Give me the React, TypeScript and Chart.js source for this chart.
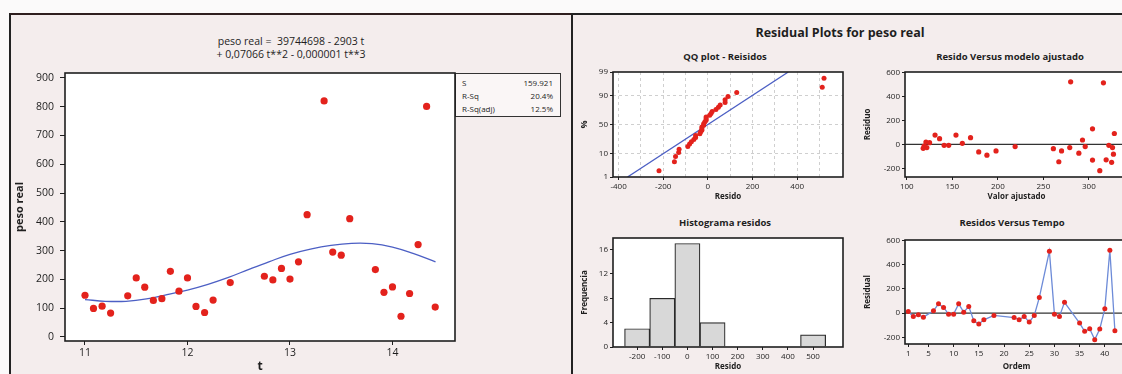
import React, { useEffect, useRef } from "react";
import { Chart, registerables } from "chart.js";

Chart.register(...registerables);

// ---------------- data ----------------
const order = [1, 2, 3, 4, 6, 7, 8, 9, 10, 11, 12, 13, 14, 15, 16, 18, 22, 23, 24, 25, 26, 27, 29, 30, 31, 32, 35, 36, 37, 38, 39, 40, 41, 42];
const tValues = [11.0, 11.083, 11.167, 11.25, 11.417, 11.5, 11.583, 11.667, 11.75, 11.833, 11.917, 12.0, 12.083, 12.167, 12.25, 12.417, 12.75, 12.833, 12.917, 13.0, 13.083, 13.167, 13.333, 13.417, 13.5, 13.583, 13.833, 13.917, 14.0, 14.083, 14.167, 14.25, 14.333, 14.417];
const pesoReal = [145, 99, 107, 83, 143, 205, 173, 127, 133, 228, 159, 205, 106, 85, 128, 189, 211, 198, 238, 201, 261, 425, 820, 295, 284, 411, 234, 155, 174, 72, 151, 321, 801, 104];
const curveT = [11.0, 11.2, 11.4, 11.6, 11.8, 12.0, 12.2, 12.4, 12.6, 12.8, 13.0, 13.2, 13.4, 13.6, 13.8, 14.0, 14.2, 14.42];
const curveY = [130, 124, 124, 132, 147, 163, 183, 207, 235, 262, 287, 305, 318, 325, 324, 312, 290, 261];
const fittedValues = [125, 122, 119, 118, 121, 131, 136, 141, 146, 154, 161, 170, 179, 188, 198, 219, 261, 270, 279, 289, 296, 304, 316, 322, 326, 328, 327, 325, 319, 312, 304, 293, 280, 267];
const residuals = [14, -27, -14, -33, 19, 77, 47, -8, -8, 77, 8, 55, -63, -90, -55, -19, -36, -55, -27, -74, -19, 129, 512, -8, -27, 90, -82, -150, -129, -219, -131, 36, 520, -145];
const histCenters = [-200, -100, 0, 100, 200, 300, 400, 500];
const histCounts = [3, 8, 17, 4, 0, 0, 0, 2];
const qqLineResid = [-360, 360];
const qqLinePct = [1, 99];
const qqTickPct = [1, 10, 50, 90, 99];
const qqGridPct = [10, 50, 90];
const mainYTicks = [0, 100, 200, 300, 400, 500, 600, 700, 800, 900];
const mainXTicks = [11, 12, 13, 14];
const qqXTicks = [-400, -300, -200, -100, 0, 100, 200, 300, 400, 500];
const fitXTicks = [100, 150, 200, 250, 300];
const residYTicks = [-200, 0, 200, 400, 600];
const histXTicks = [-200, -100, 0, 100, 200, 300, 400, 500];
const histYTicks = [0, 4, 8, 12, 16];
const orderXTicks = [1, 5, 10, 15, 20, 25, 30, 35, 40];
const statsLabels = ["S", "R-Sq", "R-Sq(adj)"];
const statsValues = ["159.921", "20.4%", "12.5%"];

// ---------------- style ----------------
const FONT = "'Open Sans', 'DejaVu Sans', sans-serif";
const INK = "#1e1e1e";
const RED = "#e3221c";
const BLUE = "#4c5fc4";
const LINE_BLUE = "#6d8bd8";
const PANEL_BG = "#f4eded";

function normInv(p: number): number {
  const a = [-3.969683028665376e1, 2.209460984245205e2, -2.759285104469687e2, 1.38357751867269e2, -3.066479806614716e1, 2.506628277459239];
  const b = [-5.447609879822406e1, 1.615858368580409e2, -1.556989798598866e2, 6.680131188771972e1, -1.328068155288572e1];
  const c = [-7.784894002430293e-3, -3.223964580411365e-1, -2.400758277161838, -2.549732539343734, 4.374664141464968, 2.938163982698783];
  const d = [7.784695709041462e-3, 3.224671290700398e-1, 2.445134137142996, 3.754408661907416];
  const plow = 0.02425;
  const phigh = 1 - plow;
  let q: number, r: number;
  if (p < plow) {
    q = Math.sqrt(-2 * Math.log(p));
    return (((((c[0] * q + c[1]) * q + c[2]) * q + c[3]) * q + c[4]) * q + c[5]) / ((((d[0] * q + d[1]) * q + d[2]) * q + d[3]) * q + 1);
  }
  if (p <= phigh) {
    q = p - 0.5;
    r = q * q;
    return ((((((a[0] * r + a[1]) * r + a[2]) * r + a[3]) * r + a[4]) * r + a[5]) * q) / (((((b[0] * r + b[1]) * r + b[2]) * r + b[3]) * r + b[4]) * r + 1);
  }
  q = Math.sqrt(-2 * Math.log(1 - p));
  return -(((((c[0] * q + c[1]) * q + c[2]) * q + c[3]) * q + c[4]) * q + c[5]) / ((((d[0] * q + d[1]) * q + d[2]) * q + d[3]) * q + 1);
}

const framePlugin = {
  id: "plotFrame",
  beforeDraw(chart: any) {
    const { ctx, chartArea: a } = chart;
    ctx.save();
    ctx.fillStyle = "#ffffff";
    ctx.fillRect(a.left, a.top, a.right - a.left, a.bottom - a.top);
    ctx.restore();
  },
  afterDraw(chart: any) {
    const { ctx, chartArea: a } = chart;
    ctx.save();
    ctx.strokeStyle = INK;
    ctx.lineWidth = 1.6;
    ctx.strokeRect(a.left, a.top, a.right - a.left, a.bottom - a.top);
    ctx.restore();
  },
};

const zeroLinePlugin = {
  id: "zeroLine",
  beforeDatasetsDraw(chart: any) {
    const { ctx, chartArea: a } = chart;
    const y = chart.scales.y.getPixelForValue(0);
    ctx.save();
    ctx.strokeStyle = "#333333";
    ctx.lineWidth = 1.2;
    ctx.beginPath();
    ctx.moveTo(a.left, y);
    ctx.lineTo(a.right, y);
    ctx.stroke();
    ctx.restore();
  },
};

function scale(o: any) {
  return {
    type: "linear",
    position: o.pos,
    min: o.min,
    max: o.max,
    offset: false,
    afterBuildTicks: (s: any) => {
      s.ticks = o.ticks.map((v: number) => ({ value: v }));
    },
    afterFit: (s: any) => {
      if (o.pos === "left") s.width = o.size;
      else s.height = o.size;
    },
    ticks: {
      autoSkip: false,
      maxRotation: 0,
      minRotation: 0,
      font: { family: FONT, size: o.fontSize },
      color: INK,
      padding: o.tickPad,
      callback: o.label || ((v: any) => String(v)),
    },
    grid: {
      offset: false,
      drawOnChartArea: !!o.gridColor,
      color: o.gridColor ? o.gridColorFn || o.gridColor : INK,
      tickColor: o.tickColorFn || INK,
      tickLength: o.tickLen,
      tickBorderDash: [],
      lineWidth: 1,
    },
    border: { display: false, dash: o.gridColor ? [3, 3] : [] },
    title: {
      display: true,
      text: o.title,
      color: INK,
      font: { family: FONT, size: o.titleSize, weight: "bold" },
      padding: o.pos === "left" ? { top: o.titlePad, bottom: 0 } : { top: 0, bottom: o.titlePad },
    },
  };
}

const baseOptions = (pad: any) => ({
  responsive: false,
  animation: false as const,
  layout: { padding: pad },
  plugins: { legend: { display: false }, tooltip: { enabled: false } },
});

function mainConfig(): any {
  return {
    type: "scatter",
    data: {
      datasets: [
        {
          data: tValues.map((t, i) => ({ x: t, y: pesoReal[i] })),
          pointRadius: 3.6,
          pointBackgroundColor: RED,
          pointBorderWidth: 0,
          showLine: false,
        },
        {
          data: curveT.map((t, i) => ({ x: t, y: curveY[i] })),
          showLine: true,
          pointRadius: 0,
          borderColor: BLUE,
          borderWidth: 1.3,
          tension: 0.4,
        },
      ],
    },
    options: {
      ...baseOptions({ left: 0, right: 7, top: 15, bottom: 0 }),
      scales: {
        x: scale({ pos: "bottom", min: 10.805, max: 14.61, ticks: mainXTicks, size: 33, fontSize: 10.5, tickPad: 2, tickLen: 4, title: "t", titleSize: 12, titlePad: 0 }),
        y: scale({ pos: "left", min: -14, max: 917, ticks: mainYTicks, size: 55, fontSize: 10.5, tickPad: 6, tickLen: 5, title: "peso real", titleSize: 11, titlePad: 3 }),
      },
    },
    plugins: [framePlugin],
  };
}

function qqConfig(): any {
  const sorted = [...residuals].sort((a, b) => a - b);
  const n = sorted.length;
  const pts = sorted.map((r, i) => ({ x: r, y: normInv((i + 1 - 0.3) / (n + 0.4)) }));
  const zTicks = qqTickPct.map((p) => normInv(p / 100));
  const zGrid = qqGridPct.map((p) => normInv(p / 100));
  return {
    type: "scatter",
    data: {
      datasets: [
        { data: pts, pointRadius: 2.5, pointBackgroundColor: RED, pointBorderWidth: 0, showLine: false },
        {
          data: qqLineResid.map((r, i) => ({ x: r, y: normInv(qqLinePct[i] / 100) })),
          showLine: true,
          pointRadius: 0,
          borderColor: BLUE,
          borderWidth: 1.3,
        },
      ],
    },
    options: {
      ...baseOptions({ left: 0, right: 7, top: 9, bottom: 0 }),
      scales: {
        x: scale({
          pos: "bottom", min: -425, max: 605, ticks: qqXTicks, size: 28, fontSize: 8, tickPad: 2, tickLen: 3,
          title: "Resido", titleSize: 8, titlePad: 3,
          label: (v: any) => (v % 200 === 0 ? String(v) : ""),
          gridColor: "#cfcfcf",
          tickColorFn: (ctx: any) => (ctx.tick && ctx.tick.value % 200 === 0 ? INK : "rgba(0,0,0,0)"),
        }),
        y: scale({
          pos: "left", min: zTicks[0], max: zTicks[zTicks.length - 1], ticks: zTicks, size: 38, fontSize: 8, tickPad: 2, tickLen: 3,
          title: "%", titleSize: 9, titlePad: 4.5,
          label: (_v: any, i: number) => String(qqTickPct[i]),
          gridColor: "#cfcfcf",
          gridColorFn: (ctx: any) =>
            ctx.tick && zGrid.some((z) => Math.abs(z - ctx.tick.value) < 1e-9) ? "#cfcfcf" : "rgba(0,0,0,0)",
        }),
      },
    },
    plugins: [framePlugin],
  };
}

function fitConfig(): any {
  return {
    type: "scatter",
    data: {
      datasets: [
        {
          data: fittedValues.map((f, i) => ({ x: f, y: residuals[i] })),
          pointRadius: 2.6,
          pointBackgroundColor: RED,
          pointBorderWidth: 0,
          showLine: false,
        },
      ],
    },
    options: {
      ...baseOptions({ left: 0, right: 12, top: 9, bottom: 0 }),
      scales: {
        x: scale({ pos: "bottom", min: 98, max: 343, ticks: fitXTicks, size: 28, fontSize: 8, tickPad: 2, tickLen: 3, title: "Valor ajustado", titleSize: 8, titlePad: 3 }),
        y: scale({ pos: "left", min: -272, max: 602, ticks: residYTicks, size: 47, fontSize: 8, tickPad: 2, tickLen: 3, title: "Residuo", titleSize: 8, titlePad: 5 }),
      },
    },
    plugins: [framePlugin, zeroLinePlugin],
  };
}

function histConfig(): any {
  return {
    type: "bar",
    data: {
      datasets: [
        {
          data: histCenters.map((c, i) => ({ x: c, y: histCounts[i] })),
          backgroundColor: "#d8d8d8",
          borderColor: "#2a2a2a",
          borderWidth: 1.2,
          barPercentage: 1,
          categoryPercentage: 1,
        },
      ],
    },
    options: {
      ...baseOptions({ left: 0, right: 7, top: 12, bottom: 0 }),
      scales: {
        x: scale({ pos: "bottom", min: -296, max: 619, ticks: histXTicks, size: 27, fontSize: 8, tickPad: 2, tickLen: 3, title: "Resido", titleSize: 8, titlePad: 2 }),
        y: scale({ pos: "left", min: 0, max: 17.9, ticks: histYTicks, size: 38, fontSize: 8, tickPad: 2, tickLen: 3, title: "Frequencia", titleSize: 8, titlePad: 5 }),
      },
    },
    plugins: [framePlugin],
  };
}

function orderConfig(): any {
  return {
    type: "scatter",
    data: {
      datasets: [
        {
          data: order.map((o, i) => ({ x: o, y: residuals[i] })),
          showLine: true,
          borderColor: LINE_BLUE,
          borderWidth: 1.3,
          pointRadius: 2.5,
          pointBackgroundColor: RED,
          pointBorderWidth: 0,
        },
      ],
    },
    options: {
      ...baseOptions({ left: 0, right: 12, top: 14, bottom: 0 }),
      scales: {
        x: scale({ pos: "bottom", min: 0.35, max: 44.6, ticks: orderXTicks, size: 30, fontSize: 8, tickPad: 2, tickLen: 3, title: "Ordem", titleSize: 8, titlePad: 2 }),
        y: scale({ pos: "left", min: -255, max: 605, ticks: residYTicks, size: 47, fontSize: 8, tickPad: 2, tickLen: 3, title: "Residual", titleSize: 8, titlePad: 5 }),
      },
    },
    plugins: [framePlugin, zeroLinePlugin],
  };
}

function CenterText(props: { cx: number; cy: number; size: number; bold?: boolean; text: string; w?: number }) {
  const w = props.w || 320;
  return (
    <div
      style={{
        position: "absolute",
        left: props.cx - w / 2,
        top: props.cy - props.size * 0.7,
        width: w,
        textAlign: "center",
        fontSize: props.size,
        lineHeight: `${props.size * 1.4}px`,
        fontWeight: props.bold ? 700 : 400,
        whiteSpace: "pre",
      }}
    >
      {props.text}
    </div>
  );
}

export default function App() {
  const mainRef = useRef<HTMLCanvasElement>(null);
  const qqRef = useRef<HTMLCanvasElement>(null);
  const fitRef = useRef<HTMLCanvasElement>(null);
  const histRef = useRef<HTMLCanvasElement>(null);
  const ordRef = useRef<HTMLCanvasElement>(null);

  useEffect(() => {
    Chart.defaults.font.family = FONT;
    const charts: Chart[] = [];
    charts.push(new Chart(mainRef.current as HTMLCanvasElement, mainConfig()));
    charts.push(new Chart(qqRef.current as HTMLCanvasElement, qqConfig()));
    charts.push(new Chart(fitRef.current as HTMLCanvasElement, fitConfig()));
    charts.push(new Chart(histRef.current as HTMLCanvasElement, histConfig()));
    charts.push(new Chart(ordRef.current as HTMLCanvasElement, orderConfig()));
    return () => charts.forEach((c) => c.destroy());
  }, []);

  const canvasStyle = (l: number, t: number, w: number, h: number): React.CSSProperties => ({
    position: "absolute",
    left: l,
    top: t,
    width: w,
    height: h,
  });

  return (
    <div
      style={{
        position: "fixed",
        left: 0,
        top: 0,
        width: 1122,
        height: 374,
        overflow: "hidden",
        background: "#fbfafa",
        fontFamily: FONT,
        color: INK,
      }}
    >
      <div
        style={{
          position: "absolute", left: 9, top: 13, width: 564, height: 380,
          borderLeft: "2px solid #222", borderTop: "2px solid #2e1e1e",
          background: PANEL_BG, boxSizing: "border-box",
        }}
      />
      <div
        style={{
          position: "absolute", left: 571, top: 13, width: 600, height: 380,
          borderLeft: "2px solid #222", borderTop: "2px solid #222",
          background: PANEL_BG, boxSizing: "border-box",
        }}
      />

      <CenterText cx={291} cy={41} size={10.5} text="peso real =  39744698 - 2903 t" />
      <CenterText cx={291} cy={54} size={10.5} text="+ 0,07066 t**2 - 0,000001 t**3" />

      <div
        style={{
          position: "absolute", left: 455, top: 73, width: 106, height: 44,
          border: "1.5px solid #333", boxSizing: "border-box", fontSize: 8,
          lineHeight: "13px", padding: "2px 7px 0 6px", background: "#faf6f6",
        }}
      >
        {statsLabels.map((l, i) => (
          <div key={l} style={{ display: "flex", justifyContent: "space-between" }}>
            <span>{l}</span>
            <span>{statsValues[i]}</span>
          </div>
        ))}
      </div>

      <CenterText cx={840} cy={33} size={12.5} bold text="Residual Plots for peso real" />
      <CenterText cx={725} cy={57} size={9.5} bold text="QQ plot - Reisidos" />
      <CenterText cx={1010} cy={57} size={9.5} bold text="Resido Versus modelo ajustado" />
      <CenterText cx={725} cy={223} size={9.5} bold text="Histograma residos" />
      <CenterText cx={1012} cy={223} size={9.5} bold text="Residos Versus Tempo" />

      <canvas ref={mainRef} width={452} height={316} style={canvasStyle(10, 58, 452, 316)} />
      <canvas ref={qqRef} width={275} height={142} style={canvasStyle(575, 63, 275, 142)} />
      <canvas ref={fitRef} width={282} height={142} style={canvasStyle(858, 63, 282, 142)} />
      <canvas ref={histRef} width={275} height={148} style={canvasStyle(575, 226, 275, 148)} />
      <canvas ref={ordRef} width={282} height={148} style={canvasStyle(858, 226, 282, 148)} />
    </div>
  );
}
